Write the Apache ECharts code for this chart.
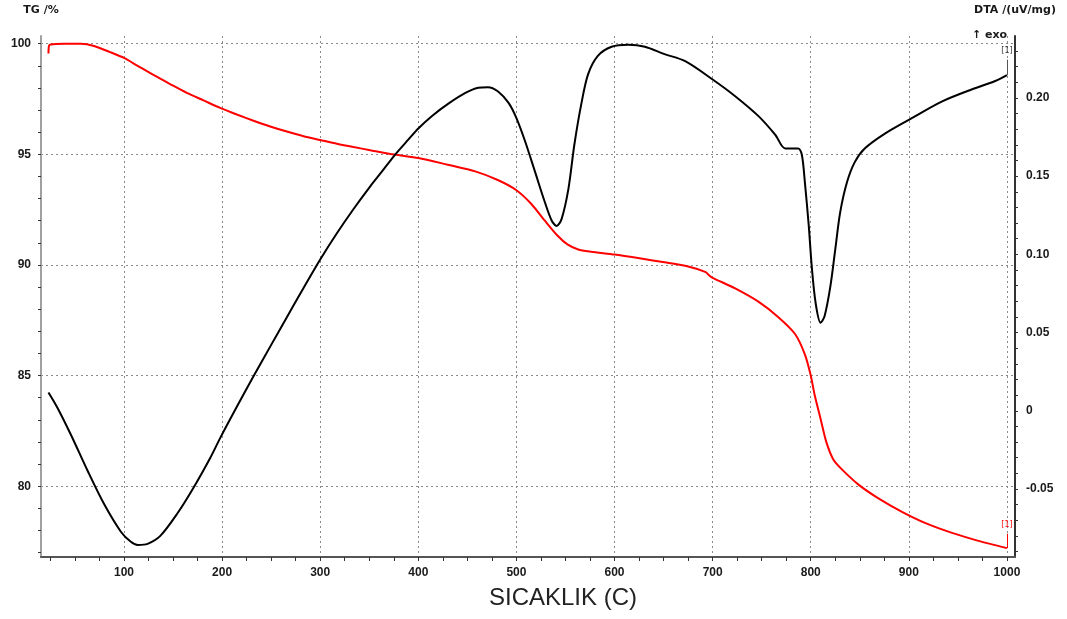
<!DOCTYPE html>
<html>
<head>
<meta charset="utf-8">
<title>TG / DTA</title>
<script src="https://cdn.jsdelivr.net/npm/echarts@6/dist/echarts.min.js"></script>
<style>
  html, body { margin: 0; padding: 0; background: #ffffff; }
  #chart { width: 1067px; height: 619px; }
</style>
</head>
<body>
<div id="chart"></div>
<script>
// TG curve (red)
const tgTemp = [23, 23.5, 25, 39, 56, 69.5, 86, 100, 114, 130, 147, 164, 181, 198, 215, 232, 249, 266, 283, 300,
  317, 334, 351, 376, 400, 430, 458, 481, 500, 515, 529, 542, 552, 563, 576, 600, 627, 651, 675, 693,
  696, 700, 723, 747, 767, 784, 794, 800, 804, 810, 816, 823, 832, 849, 869, 893, 917, 944, 971, 1000];
const tgValues = [99.56, 99.9, 99.97, 100.0, 100.0, 99.9, 99.62, 99.36, 99.0, 98.59, 98.18, 97.78, 97.44, 97.1, 96.8, 96.52, 96.26, 96.03, 95.82, 95.65,
  95.48, 95.33, 95.19, 94.99, 94.84, 94.53, 94.23, 93.84, 93.38, 92.77, 92.0, 91.32, 90.93, 90.7, 90.6, 90.47, 90.29, 90.12, 89.93, 89.68,
  89.55, 89.42, 88.94, 88.33, 87.64, 86.88, 85.96, 85.01, 84.12, 83.05, 81.98, 81.21, 80.75, 80.06, 79.45, 78.84, 78.33, 77.89, 77.53, 77.2];

// DTA curve (black)
const dtaTemp = [23, 32, 46, 63, 80, 97, 107, 114, 124, 137, 154, 171, 188, 198, 215, 232, 249, 266, 283, 300,
  317, 334, 351, 363, 376, 390, 400, 414, 431, 448, 461, 471, 481, 492, 500, 509, 519, 529, 536, 541,
  546, 553, 559, 566, 573, 583, 597, 614, 631, 651, 672, 700, 723, 747, 764, 774, 787, 791, 794, 798,
  801, 805, 810, 814, 820, 825, 830, 837, 845, 855, 876, 903, 934, 964, 988, 1000];
const dtaValues = [0.0117, 0.0021, -0.0155, -0.0385, -0.060, -0.0775, -0.0838, -0.0858, -0.0851, -0.080, -0.066, -0.049, -0.030, -0.0175, 0.0025, 0.022, 0.041, 0.0598, 0.0785, 0.0967,
  0.1135, 0.129, 0.1435, 0.153, 0.1635, 0.1735, 0.1805, 0.1885, 0.1965, 0.2032, 0.2065, 0.2069, 0.2043, 0.1968, 0.1871, 0.172, 0.1527, 0.1333, 0.1215, 0.1182,
  0.1225, 0.1419, 0.1699, 0.1957, 0.2151, 0.2269, 0.2327, 0.234, 0.2327, 0.228, 0.2235, 0.2118, 0.2011, 0.1882, 0.1763, 0.1677, 0.1677, 0.1634, 0.1462, 0.1182,
  0.0924, 0.0688, 0.0563, 0.0602, 0.0795, 0.1032, 0.1268, 0.1462, 0.1591, 0.1677, 0.1774, 0.1871, 0.1978, 0.2054, 0.2108, 0.2146];

// axis labels
const tempLabels = [100, 200, 300, 400, 500, 600, 700, 800, 900, 1000];
const tgLabels = [80, 85, 90, 95, 100];
const dtaLabels = [-0.05, 0, 0.05, 0.1, 0.15, 0.2];

// minor ticks
const tempTicks = [];
for (let t = 25; t <= 1000; t += 25) tempTicks.push(t);
const tgTicks = [];
for (let v = 77; v <= 100; v++) tgTicks.push(v);
const dtaTicks = [];
for (let i = -9; i <= 23; i++) dtaTicks.push(i / 100);

const tgData = tgTemp.map((t, i) => [t, tgValues[i]]);
const dtaData = dtaTemp.map((t, i) => [t, dtaValues[i]]);

const X_MIN = 15.4, X_MAX = 1008.2;
const TG_MIN = 76.8, TG_MAX = 100.35;
const DTA_MIN = -0.0935, DTA_MAX = 0.2396;

const labelFont = {
  color: '#1a1a1a',
  fontFamily: 'Liberation Sans, Arial, sans-serif',
  fontWeight: 'bold',
  fontSize: 12
};
const nameFont = {
  color: '#1a1a1a',
  fontFamily: 'DejaVu Sans, sans-serif',
  fontWeight: 'bold',
  fontSize: 11
};
const gridLine = { show: true, lineStyle: { color: '#8a8a8a', type: [2, 3], width: 1 } };

const chart = echarts.init(document.getElementById('chart'));

chart.setOption({
  animation: false,
  backgroundColor: '#ffffff',
  title: [
    {
      text: 'SICAKLIK (C)',
      left: 489,
      top: 586,
      textStyle: { fontFamily: 'Liberation Sans, Arial, sans-serif', fontSize: 24, fontWeight: 'normal', color: '#222' },
      padding: 0
    },
    {
      text: '\u2191 exo',
      left: 972,
      top: 30,
      textStyle: { fontFamily: 'DejaVu Sans, sans-serif', fontSize: 11, fontWeight: 'bold', color: '#1a1a1a' },
      padding: 0
    }
  ],
  grid: { left: 41, right: 52, top: 36, bottom: 62, containLabel: false },
  xAxis: [
    {
      type: 'value',
      min: X_MIN,
      max: X_MAX,
      position: 'bottom',
      axisLine: { show: true, onZero: false, lineStyle: { color: '#555', width: 2 } },
      axisTick: { show: true, length: 4, customValues: tempTicks, lineStyle: { color: '#333' } },
      axisLabel: { customValues: tempLabels, margin: 10, formatter: v => String(v), ...labelFont },
      splitLine: { show: false }
    },
    {
      // grid helper: vertical dashed lines
      type: 'value',
      min: X_MIN,
      max: X_MAX,
      position: 'top',
      axisLine: { show: false, onZero: false },
      axisTick: { show: false, customValues: tempLabels },
      axisLabel: { show: false },
      splitLine: gridLine
    }
  ],
  yAxis: [
    {
      type: 'value',
      min: TG_MIN,
      max: TG_MAX,
      position: 'left',
      name: 'TG /%',
      nameLocation: 'end',
      nameGap: 20,
      nameTextStyle: nameFont,
      axisLine: { show: true, onZero: false, lineStyle: { color: '#a0a0a0', width: 2 } },
      axisTick: { show: true, length: 3, customValues: tgTicks, lineStyle: { color: '#333' } },
      axisLabel: { customValues: tgLabels, margin: 10, ...labelFont },
      splitLine: { show: false }
    },
    {
      type: 'value',
      min: DTA_MIN,
      max: DTA_MAX,
      position: 'right',
      name: 'DTA /(uV/mg)',
      nameLocation: 'end',
      nameGap: 20,
      nameTextStyle: nameFont,
      axisLine: { show: true, onZero: false, lineStyle: { color: '#333', width: 2 } },
      axisTick: { show: true, length: 3, customValues: dtaTicks, lineStyle: { color: '#333' } },
      axisLabel: {
        customValues: dtaLabels,
        margin: 11,
        formatter: v => (Math.abs(v) < 1e-9 ? '0' : v.toFixed(2)),
        ...labelFont
      },
      splitLine: { show: false }
    },
    {
      // grid helper: horizontal dashed lines
      type: 'value',
      min: TG_MIN,
      max: TG_MAX,
      position: 'left',
      axisLine: { show: false, onZero: false },
      axisTick: { show: false, customValues: tgLabels },
      axisLabel: { show: false },
      splitLine: gridLine
    }
  ],
  series: [
    {
      name: 'TG',
      type: 'line',
      xAxisIndex: 0,
      yAxisIndex: 0,
      data: tgData,
      showSymbol: false,
      smooth: 0.25,
      lineStyle: { color: '#ff0000', width: 2 },
      itemStyle: { color: '#ff0000' },
      markLine: {
        silent: true,
        symbol: ['none', 'none'],
        lineStyle: { color: '#ff0000', width: 1, type: 'solid' },
        label: { show: true, position: 'end', formatter: '[1]', color: '#ff0000', fontSize: 8, fontFamily: 'DejaVu Sans, sans-serif' },
        data: [[{ coord: [1000, 77.2] }, { coord: [1000, 77.85] }]]
      }
    },
    {
      name: 'DTA',
      type: 'line',
      xAxisIndex: 0,
      yAxisIndex: 1,
      data: dtaData,
      showSymbol: false,
      smooth: 0.3,
      lineStyle: { color: '#000000', width: 2 },
      itemStyle: { color: '#000000' },
      markLine: {
        silent: true,
        symbol: ['none', 'none'],
        lineStyle: { color: '#555', width: 1, type: 'solid' },
        label: { show: true, position: 'end', formatter: '[1]', color: '#333', fontSize: 8, fontFamily: 'DejaVu Sans, sans-serif' },
        data: [[{ coord: [1000, 0.2146] }, { coord: [1000, 0.2245] }]]
      }
    }
  ]
});
</script>
</body>
</html>
